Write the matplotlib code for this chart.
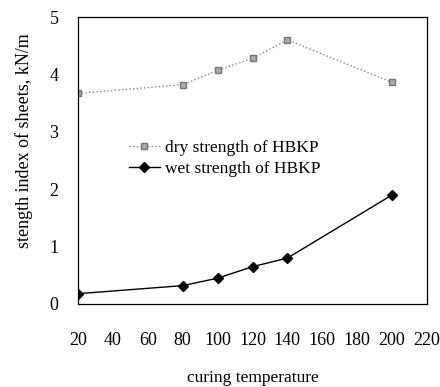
import matplotlib
matplotlib.use("Agg")
import matplotlib.pyplot as plt

temps = [20, 80, 100, 120, 140, 200]
dry = [3.67, 3.82, 4.07, 4.28, 4.60, 3.86]
wet = [0.18, 0.32, 0.45, 0.65, 0.80, 1.90]

plt.rcParams['font.family'] = ['Liberation Serif', 'DejaVu Serif']

fig = plt.figure(figsize=(4.4, 3.87), dpi=100)
ax = fig.add_axes([78/440, 1-304/387, 349/440, 287/387])

ax.plot(temps, dry, color='#888888', linestyle=':', linewidth=1,
        marker='s', markersize=4.5, markerfacecolor='#aaaaaa', markeredgecolor='#777777',
        label='dry strength of HBKP')
ax.plot(temps, wet, color='black', linestyle='-', linewidth=1,
        marker='D', markersize=5, markerfacecolor='black', markeredgecolor='black',
        label='wet strength of HBKP')

ax.set_xlim(20, 220)
ax.set_ylim(0, 5)
ax.set_xticks(range(20, 221, 20))
ax.set_yticks(range(0, 6))
ax.tick_params(length=0, labelsize=13)
ax.tick_params(axis='x', pad=20)
ax.tick_params(axis='y', pad=14)
for s in ax.spines.values():
    s.set_linewidth(0.9)

ax.set_xlabel('curing temperature', fontsize=12.5)
ax.set_ylabel('stength index of sheets, kN/m', fontsize=13)
ax.xaxis.set_label_coords(0.5, -0.23)
ax.yaxis.set_label_coords(-0.13, 0.57)

ax.legend(loc='upper left', bbox_to_anchor=(0.1, 0.625), frameon=False, fontsize=12.5,
          handlelength=1.8, handletextpad=0.3, labelspacing=0.25)

fig.savefig('out.png', dpi=100)
